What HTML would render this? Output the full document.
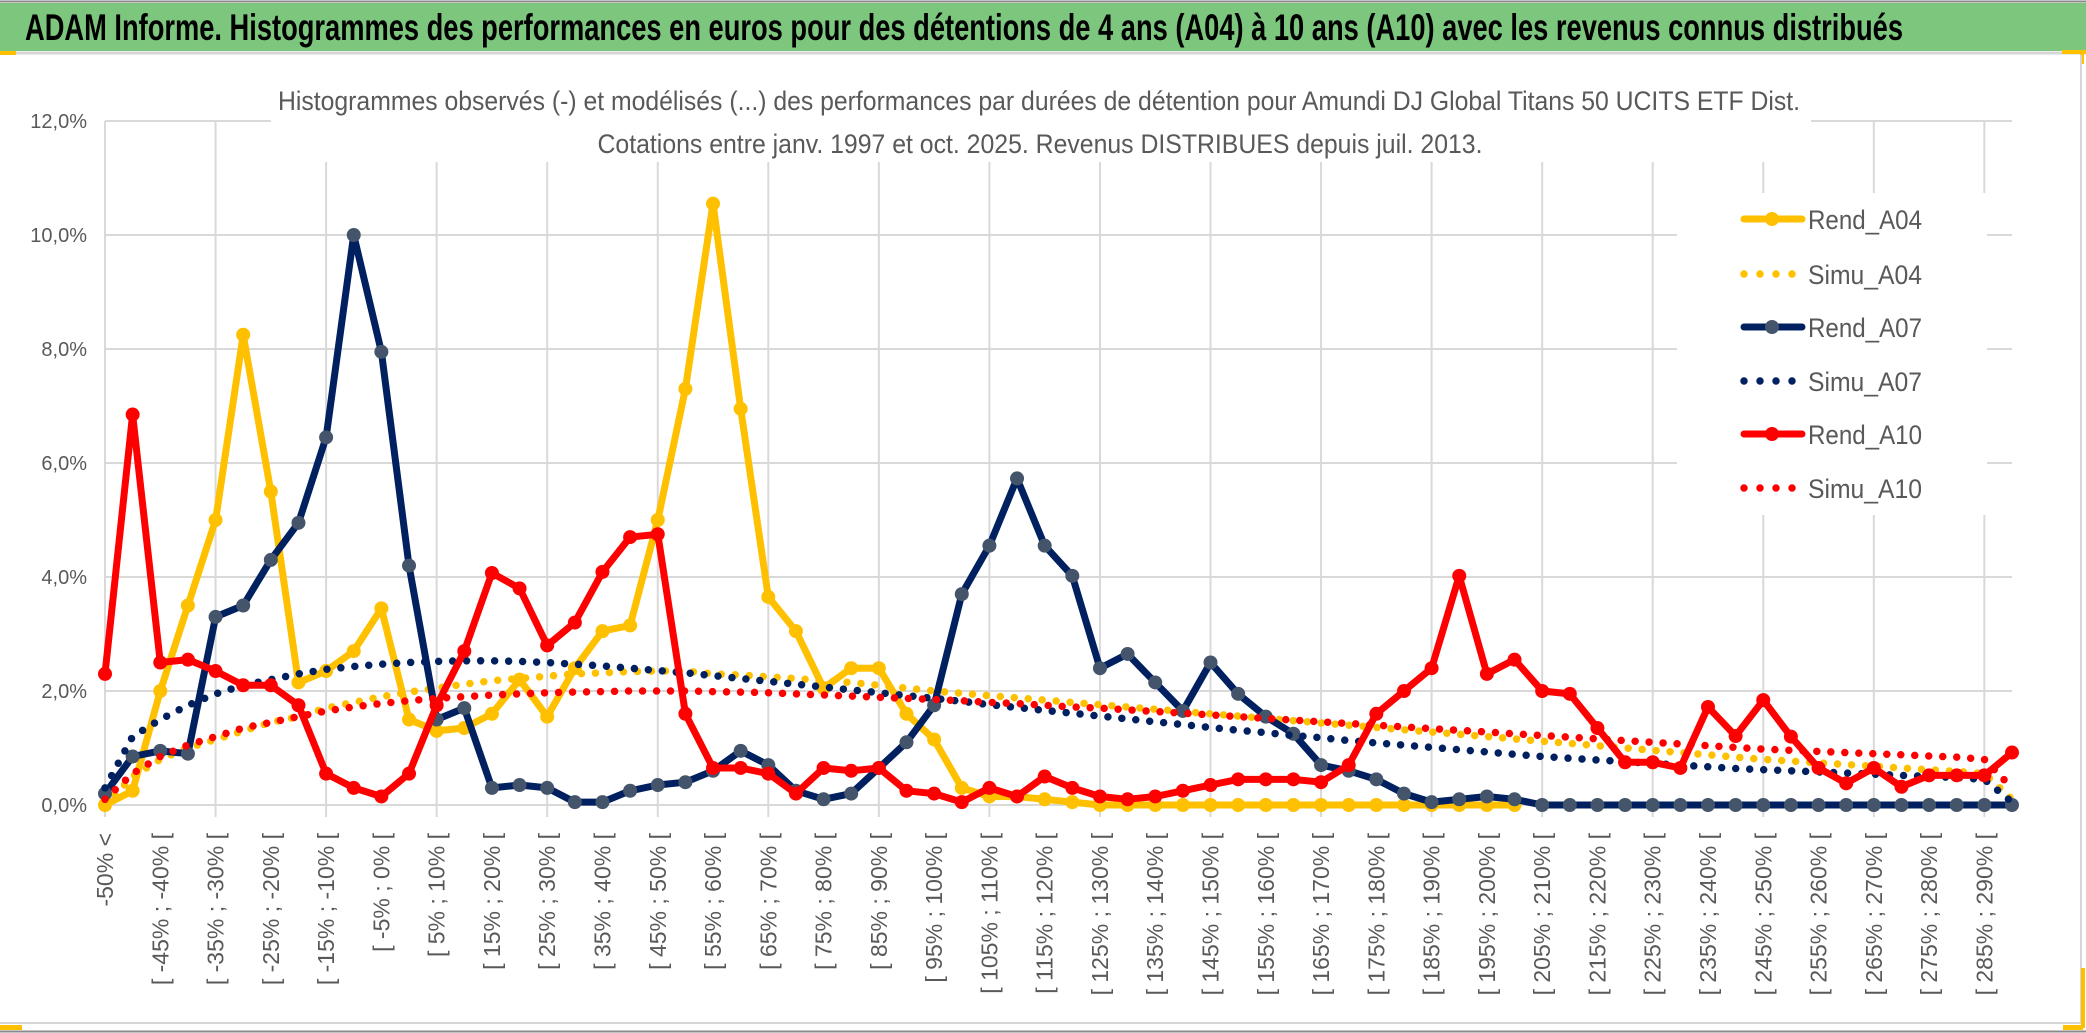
<!DOCTYPE html>
<html><head><meta charset="utf-8"><style>
html,body{margin:0;padding:0;background:#fff;}
svg{display:block;font-family:"Liberation Sans",sans-serif;}
</style></head><body>
<svg id="chart" width="2086" height="1033" viewBox="0 0 2086 1033" xmlns="http://www.w3.org/2000/svg">
<rect x="0" y="0" width="2086" height="1033" fill="#fff"/>
<rect x="0" y="3" width="2086" height="48" fill="#7DC67E"/>
<line x1="0" y1="1.5" x2="2086" y2="1.5" stroke="#8a8a8a" stroke-width="2"/>
<line x1="0" y1="53" x2="2086" y2="53" stroke="#d6d6d6" stroke-width="3"/>
<text x="25" y="40" font-size="37" font-weight="bold" fill="#000" textLength="1878" lengthAdjust="spacingAndGlyphs">ADAM Informe. Histogrammes des performances en euros pour des détentions de 4 ans (A04) à 10 ans (A10) avec les revenus connus distribués</text>
<rect x="0" y="51" width="16" height="4" fill="#FFC000"/>
<rect x="2062" y="50" width="24" height="4" fill="#FFC000"/>
<rect x="2080" y="50" width="4" height="14" fill="#FFC000"/>
<line x1="0" y1="1023" x2="2082" y2="1023" stroke="#d6d6d6" stroke-width="2"/>
<line x1="2081" y1="55" x2="2081" y2="1023" stroke="#d6d6d6" stroke-width="2"/>
<line x1="0" y1="1031.5" x2="2086" y2="1031.5" stroke="#8a8a8a" stroke-width="2"/>
<rect x="0" y="1025" width="22" height="5" fill="#FFC000"/>
<rect x="2063" y="1025" width="20" height="5" fill="#FFC000"/>
<rect x="2081" y="968" width="4" height="60" fill="#FFC000"/>
<g id="grid"></g>
<rect x="271" y="108" width="1540" height="54" fill="#fff"/>
<g fill="#595959" font-size="27" text-anchor="middle">
<text x="1039" y="110" textLength="1522" lengthAdjust="spacingAndGlyphs">Histogrammes observés (-) et modélisés (...) des performances par durées de détention pour Amundi DJ Global Titans 50 UCITS ETF Dist.</text>
<text x="1040" y="153" textLength="885" lengthAdjust="spacingAndGlyphs">Cotations entre janv. 1997 et oct. 2025. Revenus DISTRIBUES depuis juil. 2013.</text>
</g>
<rect x="1677" y="193" width="310" height="322" fill="#fff"/>
<g id="yaxis"></g>
<g id="xaxis"></g>
<g id="series"></g>
<g id="legend"></g>
</svg>
<script>
const categories = ["-50% <"];
for (let k = -50; k < 295; k += 5) categories.push("[ " + k + "% ; " + (k + 5) + "% [");
const yTicks = [0, 2, 4, 6, 8, 10, 12];
const yTickLabels = ["0,0%", "2,0%", "4,0%", "6,0%", "8,0%", "10,0%", "12,0%"];
const rendA04 = [0.0,0.25,2.0,3.5,5.0,8.25,5.5,2.15,2.35,2.7,3.45,1.5,1.3,1.35,1.6,2.2,1.55,2.4,3.05,3.15,5.0,7.3,10.55,6.95,3.65,3.05,2.05,2.4,2.4,1.6,1.15,0.3,0.15,0.15,0.1,0.05,0,0,0,0,0,0,0,0,0,0,0,0,0,0,0,0,null,null,null,null,null,null,null,null,null,null,null,null,null,null,null,null,null,null];
const simuA04 = [0.0,0.5,0.8,1.0,1.15,1.3,1.45,1.55,1.7,1.8,1.9,1.98,2.05,2.12,2.18,2.22,2.26,2.3,2.32,2.34,2.35,2.35,2.3,2.28,2.25,2.22,2.18,2.15,2.1,2.05,2.0,1.96,1.92,1.88,1.84,1.8,1.76,1.72,1.68,1.64,1.6,1.56,1.52,1.48,1.44,1.4,1.36,1.32,1.28,1.24,1.2,1.16,1.12,1.08,1.04,1.0,0.96,0.92,0.88,0.84,0.8,0.77,0.74,0.71,0.68,0.65,0.62,0.59,0.55,0.1];
const rendA07 = [0.2,0.85,0.95,0.9,3.3,3.5,4.3,4.95,6.45,10.0,7.95,4.2,1.5,1.7,0.3,0.35,0.3,0.05,0.05,0.25,0.35,0.4,0.6,0.95,0.7,0.25,0.1,0.2,0.65,1.1,1.75,3.7,4.55,5.73,4.55,4.02,2.4,2.65,2.15,1.65,2.5,1.95,1.55,1.25,0.7,0.6,0.45,0.2,0.05,0.1,0.15,0.1,0,0,0,0,0,0,0,0,0,0,0,0,0,0,0,0,0,0];
const simuA07 = [0.3,1.2,1.5,1.75,1.95,2.1,2.2,2.3,2.38,2.43,2.47,2.5,2.52,2.53,2.53,2.52,2.5,2.47,2.44,2.4,2.36,2.32,2.27,2.22,2.17,2.12,2.07,2.02,1.97,1.92,1.87,1.82,1.76,1.71,1.66,1.61,1.56,1.51,1.46,1.41,1.36,1.31,1.27,1.22,1.18,1.13,1.09,1.05,1.01,0.97,0.93,0.89,0.85,0.82,0.79,0.76,0.73,0.7,0.67,0.64,0.62,0.6,0.58,0.56,0.54,0.52,0.5,0.48,0.45,0.05];
const rendA10 = [2.3,6.85,2.5,2.55,2.35,2.1,2.1,1.75,0.55,0.3,0.15,0.55,1.75,2.7,4.07,3.8,2.8,3.2,4.09,4.7,4.75,1.6,0.65,0.65,0.55,0.2,0.65,0.6,0.65,0.25,0.2,0.05,0.3,0.15,0.5,0.3,0.15,0.1,0.15,0.25,0.35,0.45,0.45,0.45,0.4,0.7,1.6,2.0,2.4,4.02,2.3,2.55,2.0,1.95,1.35,0.75,0.75,0.65,1.72,1.21,1.84,1.2,0.65,0.38,0.65,0.32,0.52,0.52,0.52,0.92];
const simuA10 = [0.1,0.55,0.85,1.05,1.2,1.35,1.45,1.55,1.65,1.72,1.78,1.83,1.87,1.9,1.93,1.95,1.97,1.98,1.99,2.0,2.0,2.0,1.99,1.98,1.97,1.95,1.93,1.91,1.89,1.87,1.85,1.83,1.8,1.78,1.75,1.72,1.7,1.67,1.64,1.61,1.58,1.55,1.52,1.49,1.46,1.43,1.4,1.37,1.34,1.31,1.28,1.25,1.22,1.19,1.16,1.13,1.1,1.07,1.04,1.01,0.98,0.96,0.94,0.92,0.9,0.88,0.86,0.84,0.8,0.3];

const NS = "http://www.w3.org/2000/svg";
const X0 = 105, X1 = 2012, Y0 = 805, Y12 = 121;
function xPos(i){ return X0 + i * (X1 - X0) / (categories.length - 1); }
function yPos(v){ return Y0 - v * (Y0 - Y12) / 12; }
function mk(tag, attrs, parent){ const e = document.createElementNS(NS, tag); for (const k in attrs) e.setAttribute(k, attrs[k]); parent.appendChild(e); return e; }

const grid = document.getElementById("grid");
yTicks.forEach(function(t){
  const l = mk("line", {x1: X0, x2: X1, y1: yPos(t), y2: yPos(t), stroke: "#D9D9D9", "stroke-width": 2}, grid);
  
  
});
for (let i = 0; i < categories.length; i += 4) {
  const l = mk("line", {x1: xPos(i), x2: xPos(i), y1: Y12, y2: Y0 + 12, stroke: "#D9D9D9", "stroke-width": 2}, grid);
  
  
}

const yaxis = document.getElementById("yaxis");
yTicks.forEach(function(t, k){
  const tx = mk("text", {x: 87, y: yPos(t) + 7, "text-anchor": "end", "font-size": 20, fill: "#595959"}, yaxis);
  tx.textContent = yTickLabels[k];
  
  
});

const xaxis = document.getElementById("xaxis");
for (let i = 0; i < categories.length; i += 2) {
  const x = xPos(i), y = 833;
  const tx = mk("text", {x: x, y: y, "text-anchor": "end", "dominant-baseline": "central", "font-size": 23, fill: "#595959", transform: "rotate(-90 " + x + " " + y + ")"}, xaxis);
  tx.textContent = categories[i];
  
  
}

const seriesG = document.getElementById("series");
function pathFor(arr){
  let d = "", pen = false;
  arr.forEach(function(v, i){
    if (v === null) { pen = false; return; }
    d += (pen ? "L" : "M") + xPos(i).toFixed(1) + " " + yPos(v).toFixed(1) + " ";
    pen = true;
  });
  return d;
}
function drawSolid(arr, color, markerColor, name){
  const g = mk("g", {}, seriesG);
  
  
  mk("path", {d: pathFor(arr), fill: "none", stroke: color, "stroke-width": 7, "stroke-linejoin": "round", "stroke-linecap": "round"}, g);
  arr.forEach(function(v, i){
    if (v === null) return;
    const c = mk("circle", {cx: xPos(i), cy: yPos(v), r: 7, fill: markerColor}, g);
    
    
  });
}
function drawDotted(arr, color, name){
  const p = mk("path", {d: pathFor(arr), fill: "none", stroke: color, "stroke-width": 7.5, "stroke-linecap": "round", "stroke-dasharray": "0 14"}, seriesG);
  
  
}
drawSolid(rendA04, "#FFC000", "#FFC000", "rend-a04-line");
drawDotted(simuA04, "#FFC000", "simu-a04-line");
drawSolid(rendA07, "#002060", "#44546A", "rend-a07-line");
drawDotted(simuA07, "#002060", "simu-a07-line");
drawSolid(rendA10, "#FF0000", "#FF0000", "rend-a10-line");
drawDotted(simuA10, "#FF0000", "simu-a10-line");

const legendNames = ["Rend_A04", "Simu_A04", "Rend_A07", "Simu_A07", "Rend_A10", "Simu_A10"];
const legendColors = ["#FFC000", "#FFC000", "#002060", "#002060", "#FF0000", "#FF0000"];
const legendMarkers = ["#FFC000", null, "#44546A", null, "#FF0000", null];
const legendY = [219, 274, 327, 381, 434, 488];
const legend = document.getElementById("legend");
legendNames.forEach(function(n, k){
  const g = mk("g", {}, legend);
  
  
  const y = legendY[k];
  if (legendMarkers[k]) {
    mk("line", {x1: 1744, x2: 1802, y1: y, y2: y, stroke: legendColors[k], "stroke-width": 7, "stroke-linecap": "round"}, g);
    mk("circle", {cx: 1772, cy: y, r: 7, fill: legendMarkers[k]}, g);
  } else {
    mk("line", {x1: 1744, x2: 1802, y1: y, y2: y, stroke: legendColors[k], "stroke-width": 7.5, "stroke-linecap": "round", "stroke-dasharray": "0 16"}, g);
  }
  const t = mk("text", {x: 1808, y: y + 10, "font-size": 27, fill: "#595959", textLength: 114, lengthAdjust: "spacingAndGlyphs"}, g);
  t.textContent = n;
});
</script>
</body></html>
